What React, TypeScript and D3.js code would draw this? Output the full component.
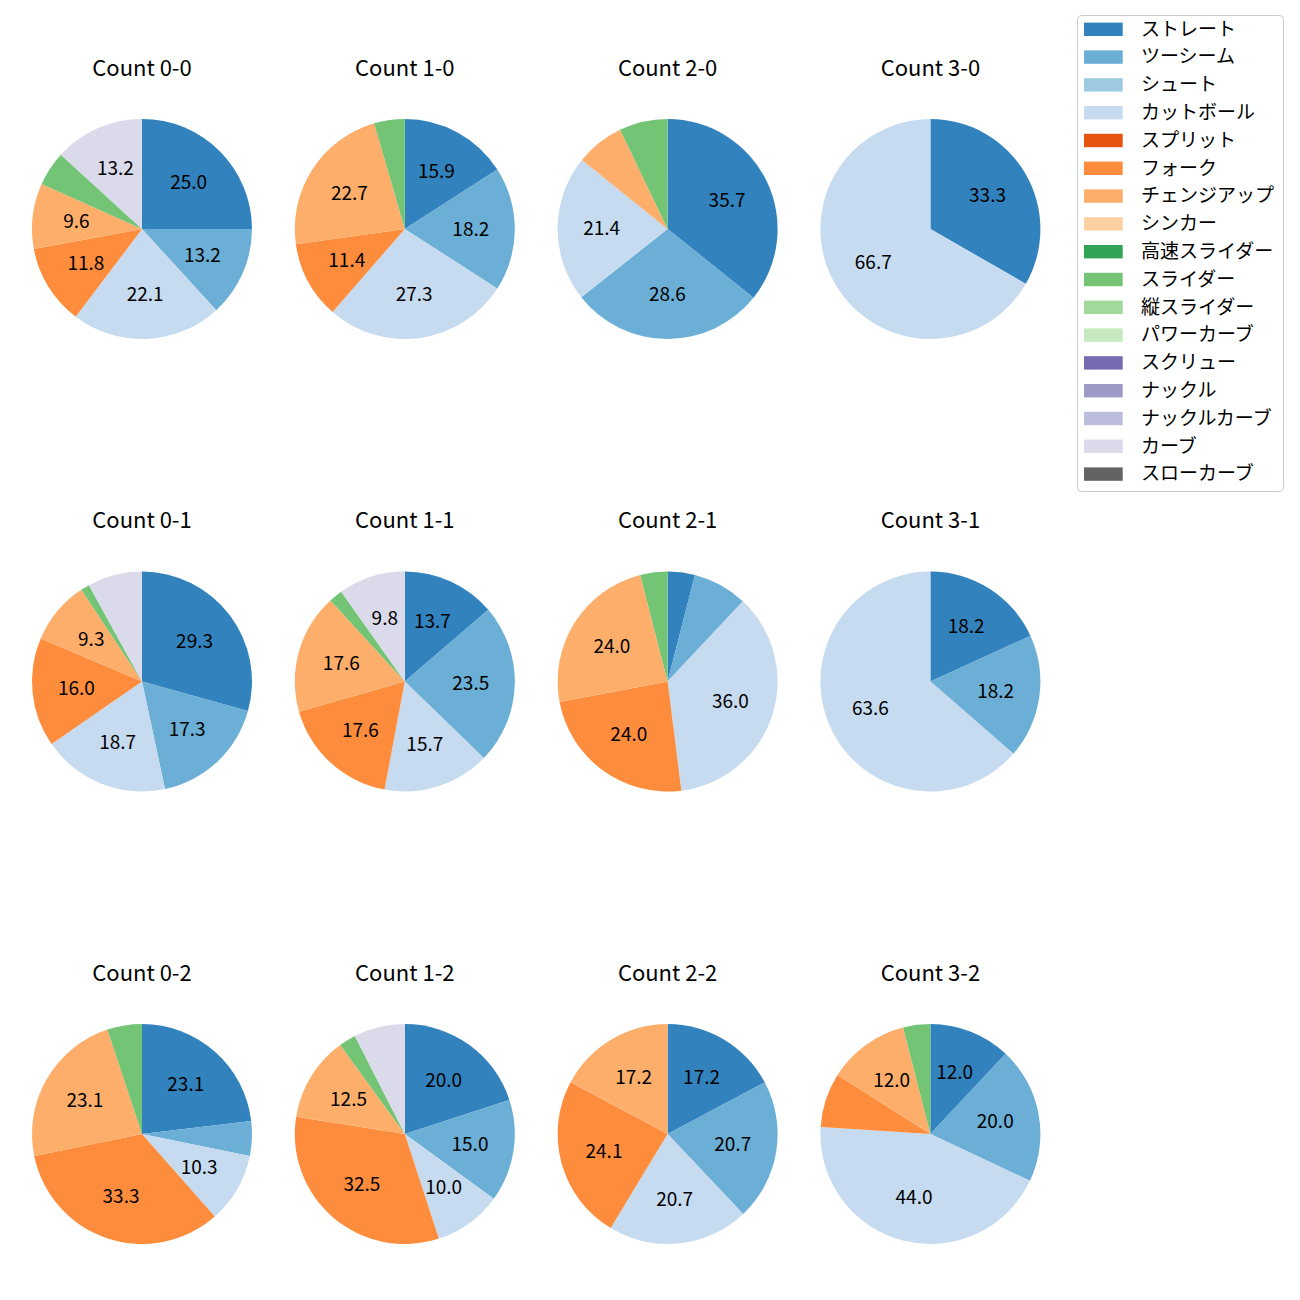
import React from "react";
import * as d3 from "d3";

const pitchTypes = [
  "ストレート", "ツーシーム", "シュート", "カットボール", "スプリット", "フォーク",
  "チェンジアップ", "シンカー", "高速スライダー", "スライダー", "縦スライダー",
  "パワーカーブ", "スクリュー", "ナックル", "ナックルカーブ", "カーブ", "スローカーブ",
];

const pitchColors = [
  "#3182bd", "#6baed6", "#9ecae1", "#c6dbef", "#e6550d", "#fd8d3c",
  "#fdae6b", "#fdd0a2", "#31a354", "#74c476", "#a1d99b", "#c7e9c0",
  "#756bb1", "#9e9ac8", "#bcbddc", "#dadaeb", "#636363",
];

const countLabels = ["0-0", "1-0", "2-0", "3-0", "0-1", "1-1", "2-1", "3-1", "0-2", "1-2", "2-2", "3-2"];

// percentages per pitch type (same order as pitchTypes)
const share00 = [25.0, 13.2, 0, 22.1, 0, 11.8, 9.6, 0, 0, 5.1, 0, 0, 0, 0, 0, 13.2, 0];
const share10 = [15.9, 18.2, 0, 27.3, 0, 11.4, 22.7, 0, 0, 4.5, 0, 0, 0, 0, 0, 0, 0];
const share20 = [35.7, 28.6, 0, 21.4, 0, 0, 7.1, 0, 0, 7.1, 0, 0, 0, 0, 0, 0, 0];
const share30 = [33.3, 0, 0, 66.7, 0, 0, 0, 0, 0, 0, 0, 0, 0, 0, 0, 0, 0];
const share01 = [29.3, 17.3, 0, 18.7, 0, 16.0, 9.3, 0, 0, 1.3, 0, 0, 0, 0, 0, 8.0, 0];
const share11 = [13.7, 23.5, 0, 15.7, 0, 17.6, 17.6, 0, 0, 2.0, 0, 0, 0, 0, 0, 9.8, 0];
const share21 = [4.0, 8.0, 0, 36.0, 0, 24.0, 24.0, 0, 0, 4.0, 0, 0, 0, 0, 0, 0, 0];
const share31 = [18.2, 18.2, 0, 63.6, 0, 0, 0, 0, 0, 0, 0, 0, 0, 0, 0, 0, 0];
const share02 = [23.1, 5.1, 0, 10.3, 0, 33.3, 23.1, 0, 0, 5.1, 0, 0, 0, 0, 0, 0, 0];
const share12 = [20.0, 15.0, 0, 10.0, 0, 32.5, 12.5, 0, 0, 2.5, 0, 0, 0, 0, 0, 7.5, 0];
const share22 = [17.2, 20.7, 0, 20.7, 0, 24.1, 17.2, 0, 0, 0, 0, 0, 0, 0, 0, 0, 0];
const share32 = [12.0, 20.0, 0, 44.0, 0, 8.0, 12.0, 0, 0, 4.0, 0, 0, 0, 0, 0, 0, 0];

const allShares = [share00, share10, share20, share30, share01, share11, share21, share31, share02, share12, share22, share32];

const FONT = "'Noto Sans CJK JP', 'Noto Sans', sans-serif";
const LABEL_MIN = 9;

const colCenters = [142, 404.8, 667.6, 930.4];
const rowCenters = [229, 681.5, 1134];
const R = 110;

function Pie({ cx, cy, title, values }: { cx: number; cy: number; title: string; values: number[] }) {
  const items = values.map((v, i) => ({ v, i })).filter((d) => d.v > 0);
  const pie = d3.pie<{ v: number; i: number }>().sort(null).value((d) => d.v).startAngle(0).endAngle(2 * Math.PI);
  const arcs = pie(items);
  const arc = d3.arc<d3.PieArcDatum<{ v: number; i: number }>>().innerRadius(0).outerRadius(R);
  const total = d3.sum(items, (d) => d.v);
  return (
    <g>
      <text x={cx} y={cy - 153.5} textAnchor="middle" fontSize={22} fontFamily={FONT} fill="#000">
        {"Count " + title}
      </text>
      <g transform={`translate(${cx},${cy})`}>
        {arcs.map((a) => (
          <path key={a.data.i} d={arc(a) || ""} fill={pitchColors[a.data.i]} />
        ))}
        {arcs.map((a) => {
          const pct = (a.data.v / total) * 100;
          if (pct < LABEL_MIN) return null;
          const mid = (a.startAngle + a.endAngle) / 2;
          const x = Math.sin(mid) * R * 0.6;
          const y = -Math.cos(mid) * R * 0.6;
          return (
            <text key={"t" + a.data.i} x={x} y={y + 6.5} textAnchor="middle"
              fontSize={19} fontFamily={FONT} fill="#000">
              {pct.toFixed(1)}
            </text>
          );
        })}
      </g>
    </g>
  );
}

function Legend() {
  const x0 = 1077, y0 = 15, w = 206, h = 476;
  const rowY = (i: number) => 29.3 + i * 27.8;
  return (
    <g>
      <rect x={x0 + 0.5} y={y0 + 0.5} width={w} height={h} rx={4} ry={4} fill="#fff" fillOpacity={0.8} stroke="#cccccc" strokeWidth={1} />
      {pitchTypes.map((p, i) => (
        <g key={p}>
          <rect x={1084} y={rowY(i) - 6.7} width={38.7} height={13.4} fill={pitchColors[i]} />
          <text x={1141} y={rowY(i) + 6.3} fontSize={19} fontFamily={FONT} fill="#000">
            {p}
          </text>
        </g>
      ))}
    </g>
  );
}

export default function App() {
  return (
    <div style={{ position: "absolute", left: 0, top: 0 }}>
      <svg width={1300} height={1300} viewBox="0 0 1300 1300" style={{ display: "block", background: "#fff" }}>
        <rect width={1300} height={1300} fill="#fff" />
        {countLabels.map((c, k) => (
          <Pie key={c} cx={colCenters[k % 4]} cy={rowCenters[Math.floor(k / 4)]} title={c} values={allShares[k]} />
        ))}
        <Legend />
      </svg>
    </div>
  );
}
